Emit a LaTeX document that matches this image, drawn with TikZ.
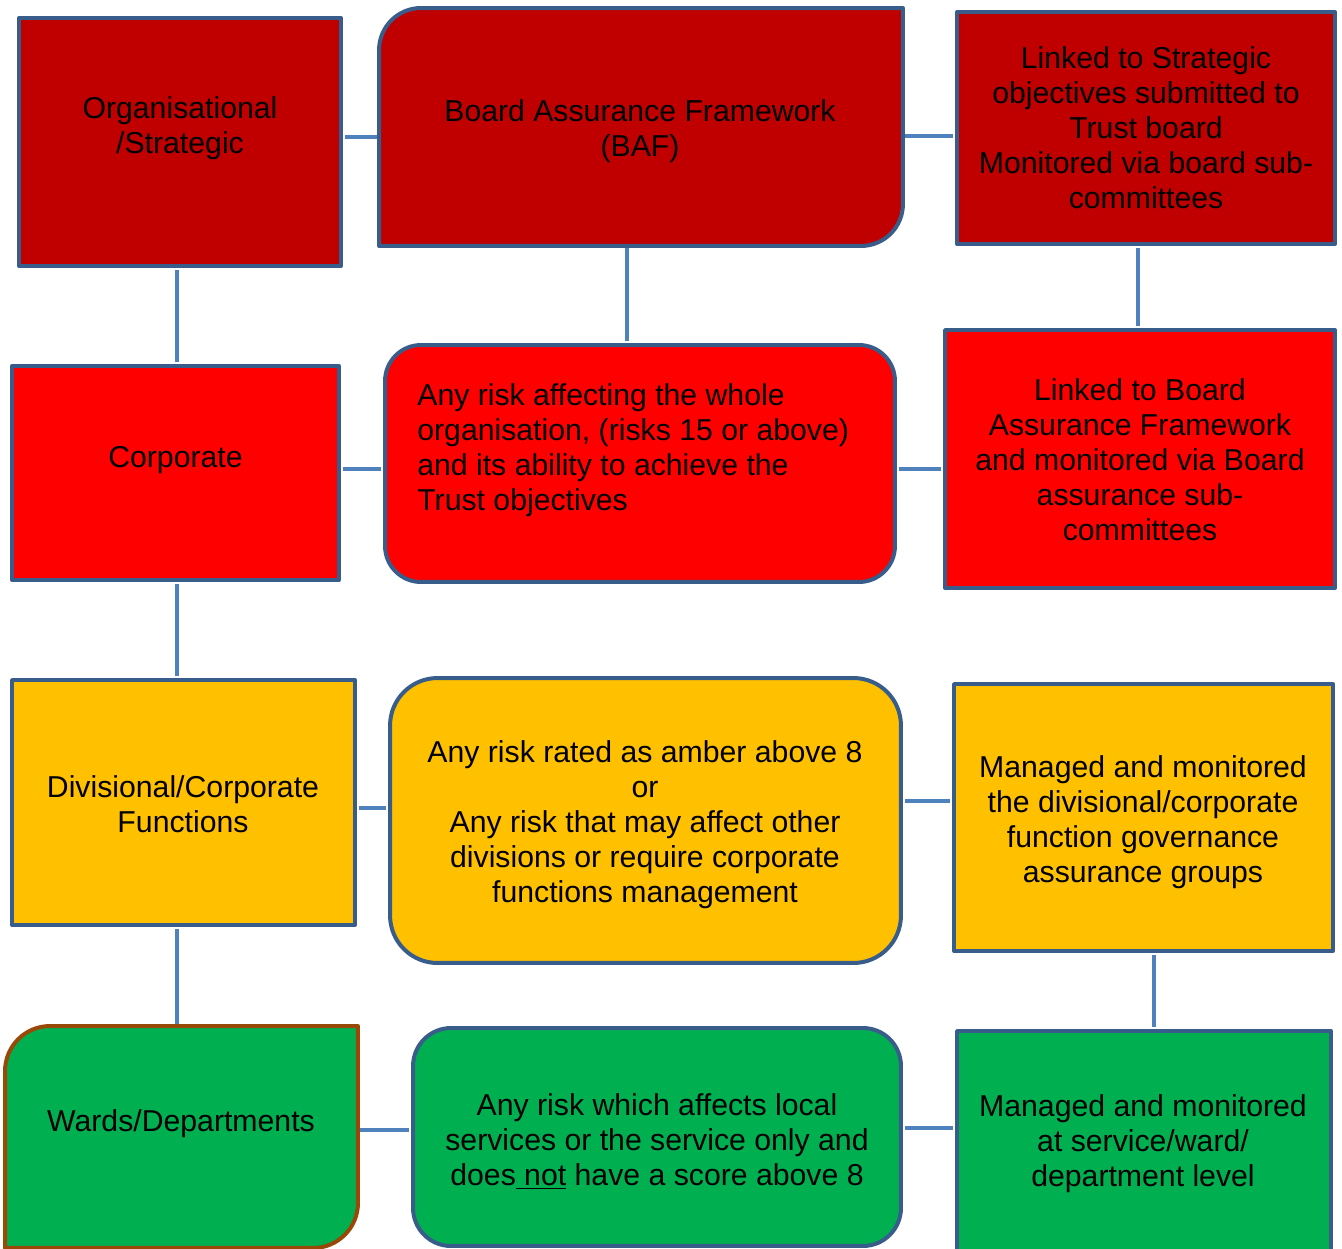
\documentclass[tikz,border=0pt]{standalone}
\usepackage{fontspec}
\setmainfont{Liberation Sans}
\usepackage{tikz}
\definecolor{darkred}{RGB}{192,0,0}
\definecolor{brightred}{RGB}{255,0,0}
\definecolor{amber}{RGB}{255,192,0}
\definecolor{leafgreen}{RGB}{0,176,80}
\definecolor{edgeblue}{RGB}{56,93,138}
\definecolor{linkblue}{RGB}{79,129,189}
\definecolor{brownedge}{RGB}{152,72,7}

\begin{document}
\begin{tikzpicture}[line join=round,x=0.02cm,y=-0.02cm,
  box/.style={rectangle,draw=edgeblue,line width=0.08cm,inner sep=0pt},
  txt/.style={font=\fontsize{17.2pt}{19.9pt}\selectfont,align=center,inner sep=0pt},
  link/.style={draw=linkblue,line width=0.08cm,shorten <=0.04cm,shorten >=0.04cm}]
\useasboundingbox (0,0) rectangle (1342,1248);
\clip (0,0) rectangle (1342,1248);
% level boxes, left column
\node[box,fill=darkred,minimum width=6.44cm,minimum height=4.96cm] (org) at (180,142) {};
\node[box,fill=brightred,minimum width=6.54cm,minimum height=4.28cm] (corp) at (175.5,473) {};
\node[box,fill=amber,minimum width=6.86cm,minimum height=4.9cm] (div) at (183.5,802.5) {};
\node[box,draw=none,minimum width=6.98cm,minimum height=4.36cm] (wards) at (181.5,1137) {};
\draw[line width=0.08cm,draw=brownedge,fill=leafgreen] (wards.south west) -- ([yshift=-0.9cm]wards.north west) arc[start angle=180,end angle=90,radius=0.9cm] -- (wards.north east) -- ([yshift=0.9cm]wards.south east) arc[start angle=0,end angle=-90,radius=0.9cm] -- cycle;
% middle column
\node[box,draw=none,minimum width=10.4cm,minimum height=4.68cm] (baf) at (641,127) {};
\draw[line width=0.08cm,draw=edgeblue,fill=darkred] (baf.south west) -- ([yshift=-0.84cm]baf.north west) arc[start angle=180,end angle=90,radius=0.84cm] -- (baf.north east) -- ([yshift=0.84cm]baf.south east) arc[start angle=0,end angle=-90,radius=0.84cm] -- cycle;
\node[box,fill=brightred,rounded corners=0.72cm,minimum width=10.2cm,minimum height=4.74cm] (whole) at (640,463.5) {};
\node[box,fill=amber,rounded corners=0.95cm,minimum width=10.22cm,minimum height=5.7cm] (amberrisk) at (645.5,820.5) {};
\node[box,fill=leafgreen,rounded corners=0.76cm,minimum width=9.76cm,minimum height=4.36cm] (local) at (657,1137) {};
% right column
\node[box,fill=darkred,minimum width=7.56cm,minimum height=4.64cm] (stratlink) at (1146,128) {};
\node[box,fill=brightred,minimum width=7.8cm,minimum height=5.16cm] (boardlink) at (1140,459) {};
\node[box,fill=amber,minimum width=7.58cm,minimum height=5.34cm] (divgov) at (1143.5,817.5) {};
\node[box,fill=leafgreen,minimum width=7.48cm,minimum height=4.78cm] (wardgov) at (1144,1150.5) {};
% connectors
\draw[link] (org.east |- 0,137) -- (baf.west |- 0,137);
\draw[link] (baf.east |- 0,136) -- (stratlink.west |- 0,136);
\draw[link] (177,0 |- org.south) -- (177,0 |- corp.north);
\draw[link] (627,0 |- baf.south) -- (627,0 |- whole.north);
\draw[link] (1138,0 |- stratlink.south) -- (1138,0 |- boardlink.north);
\draw[link] (corp.east |- 0,469) -- (whole.west |- 0,469);
\draw[link] (whole.east |- 0,469) -- (boardlink.west |- 0,469);
\draw[link] (177,0 |- corp.south) -- (177,0 |- div.north);
\draw[link] (div.east |- 0,808) -- (amberrisk.west |- 0,808);
\draw[link] (amberrisk.east |- 0,801) -- (divgov.west |- 0,801);
\draw[link] (177,0 |- div.south) -- (177,0 |- wards.north);
\draw[link] (1154,0 |- divgov.south) -- (1154,0 |- wardgov.north);
\draw[link] (wards.east |- 0,1130) -- (local.west |- 0,1130);
\draw[link] (local.east |- 0,1128) -- (wardgov.west |- 0,1128);
% texts
\node[txt] (org-t) at (180,128.5) {Organisational\\/Strategic};
\node[txt] (baf-t) at (640,131.5) {Board Assurance Framework\\(BAF)};
\node[txt] (stratlink-t) at (1146,128) {Linked to Strategic\\objectives submitted to\\Trust board\\Monitored via board sub-\\committees};
\node[txt] (corp-t) at (175.5,460) {Corporate};
\node[txt,align=left,anchor=west] (whole-t) at (417,450.5) {Any risk affecting the whole\\organisation, (risks 15 or above)\\and its ability to achieve the\\Trust objectives};
\node[txt] (boardlink-t) at (1140,460) {Linked to Board\\Assurance Framework\\and monitored via Board\\assurance sub-\\committees};
\node[txt] (div-t) at (183,804) {Divisional/Corporate\\Functions};
\node[txt] (amberrisk-t) at (645,824.5) {Any risk rated as amber above 8\\or\\Any risk that may affect other\\divisions or require corporate\\functions management};
\node[txt] (divgov-t) at (1143,822) {Managed and monitored\\the divisional/corporate\\function governance\\assurance groups};
\node[txt] (wards-t) at (181,1124) {Wards/Departments};
\node[txt] (local-t) at (657,1141.7) {Any risk which affects local\\services or the service only and\\does\underline{ not} have a score above 8};
\node[txt] (wardgov-t) at (1143,1144) {Managed and monitored\\at service/ward/\\department level};
\end{tikzpicture}
\end{document}
